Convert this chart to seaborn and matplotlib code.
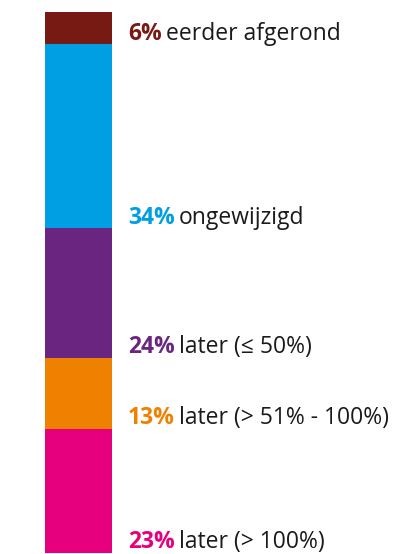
import matplotlib
matplotlib.use("Agg")
import matplotlib.pyplot as plt
import matplotlib.transforms as mtransforms
import seaborn as sns
import pandas as pd

# segments from top to bottom
labels = ["eerder afgerond", "ongewijzigd", "later (≤ 50%)", "later (> 51% - 100%)", "later (> 100%)"]
values = [6, 34, 24, 13, 23]
colors = ["#771A14", "#009FE3", "#6A2580", "#F08100", "#E6007E"]

sns.set_theme(style="white")
plt.rcParams['font.family'] = ['Open Sans', 'DejaVu Sans']

fig = plt.figure(figsize=(4.01, 5.54), dpi=100)
ax = fig.add_axes([45 / 401, 1 / 554, 67 / 401, 541 / 554])

# cumulative totals from the bottom, drawn largest first so each covers the rest
bottoms = []
running = 0
for v in values[::-1]:
    bottoms.append(running)
    running += v
bottoms = bottoms[::-1]
tops = [b + v for b, v in zip(bottoms, values)]

for top, col in zip(tops, colors):
    df = pd.DataFrame({"g": ["a"], "v": [top]})
    sns.barplot(data=df, x="g", y="v", color=col, width=1.0, saturation=1,
                linewidth=0, edgecolor=col, ax=ax)

ax.set_xlim(-0.5, 0.5)
ax.set_ylim(0, 100)
ax.axis("off")

trans = mtransforms.blended_transform_factory(ax.transAxes, ax.transData)
for lab, v, b, col in zip(labels, values, bottoms, colors):
    pct = ax.text(1.24, b + 2, f"{v}%", transform=trans, color=col,
                  fontsize=16.5, fontweight="bold", va="center", ha="left", clip_on=False)
    ax.annotate(lab, xy=(1, 0), xycoords=pct, xytext=(3, 0), textcoords="offset points",
                color="#1a1a1a", fontsize=16.5, va="bottom", ha="left", annotation_clip=False)

fig.savefig("out.png", dpi=100)
